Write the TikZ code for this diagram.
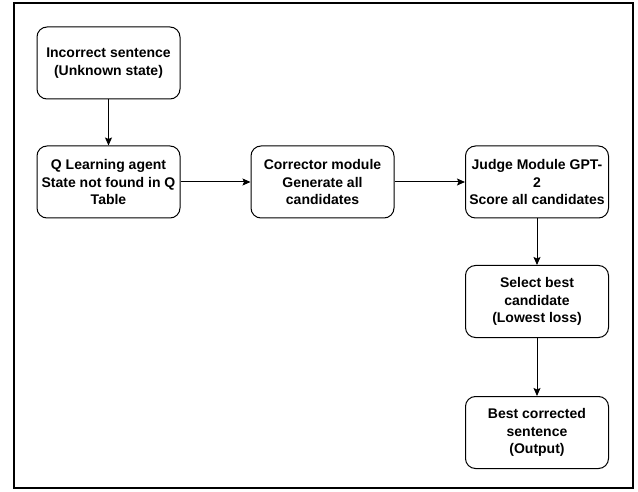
\documentclass[tikz,border=0pt]{standalone}
\usepackage{fontspec}
\setsansfont{Liberation Sans}
\usepackage{tikz}
\usetikzlibrary{arrows.meta}

\begin{document}
\begin{tikzpicture}
	[x=1pt,y=-1pt,line width=1pt,>={Stealth[length=8pt,width=7pt,inset=1.5pt]},
	box/.style = {
		draw, rounded corners=10pt, fill=white,
		minimum width=143pt, minimum height=72pt,
		inner sep=2pt, align=center,
		font=\sffamily\bfseries\fontsize{14}{17.5}\selectfont
	},
	frame/.style = {
		draw, line width=1.2pt
	}]
	
	\useasboundingbox (0,0) rectangle (638,492);
	\draw[frame] (14,3) rectangle (633,488);
	
	%Draw nodes
	\node[box] at (108.5,63) (inc) {Incorrect sentence\\(Unknown state)};
	\node[box] at (108.5,182) (qla) {Q Learning agent\\State not found in Q\\Table};
	\node[box] at (322.5,182) (cor) {Corrector module\\Generate all\\candidates};
	\node[box] at (537,182) (jdg) {Judge Module GPT-\\2\\Score all candidates};
	\node[box] at (537,301.5) (sel) {Select best\\candidate\\(Lowest loss)};
	\node[box] at (537,432.5) (best) {Best corrected\\sentence\\(Output)};
	
	%Draw wires
	\draw[->] (inc) -- (qla);
	\draw[->] (qla) -- (cor);
	\draw[->] (cor) -- (jdg);
	\draw[->] (jdg) -- (sel);
	\draw[->] (sel) -- (best);
	
\end{tikzpicture}
\end{document}
